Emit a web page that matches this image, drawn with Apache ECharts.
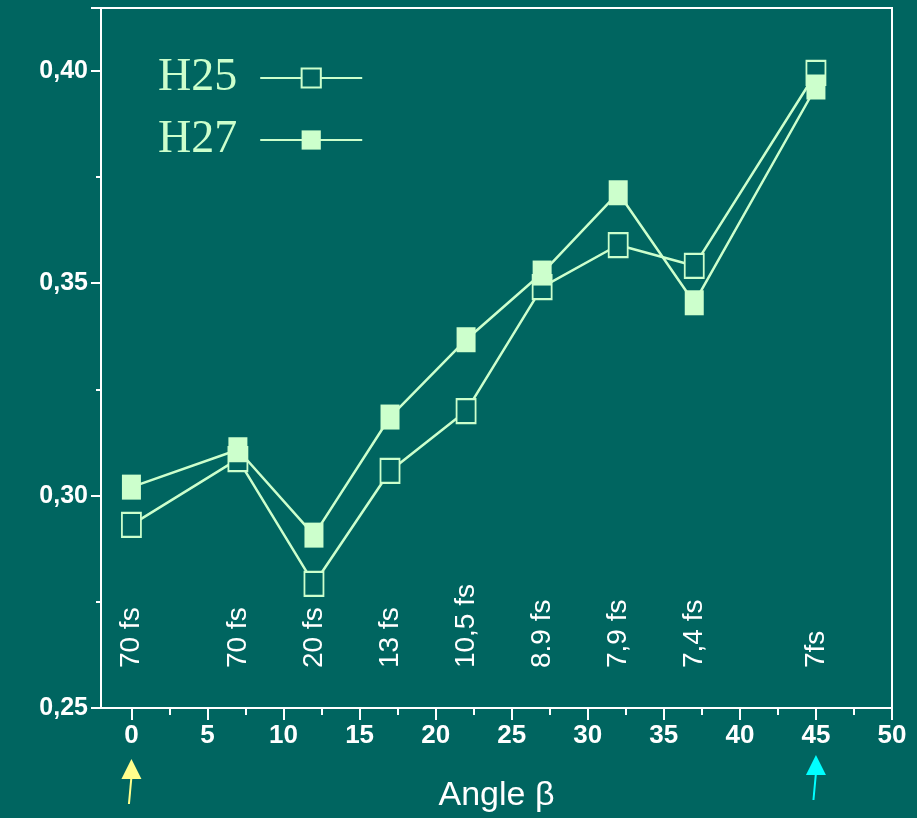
<!DOCTYPE html>
<html>
<head>
<meta charset="utf-8">
<script src="https://cdn.jsdelivr.net/npm/echarts@6/dist/echarts.min.js"></script>
<style>
  html, body { margin: 0; padding: 0; background: #006560; }
  #chart { width: 917px; height: 818px; }
</style>
</head>
<body>
<div id="chart"></div>
<script>
// angle beta (x) for each sample
const angles = [0, 7, 12, 17, 22, 27, 32, 37, 45];
const h25 = [0.2931, 0.3086, 0.2792, 0.3058, 0.3199, 0.3491, 0.3590, 0.3541, 0.3995];
const h27 = [0.3020, 0.3108, 0.2907, 0.3185, 0.3367, 0.3524, 0.3713, 0.3454, 0.3962];
// pulse durations written vertically above each angle
const pulseLabels = ['70 fs', '70 fs', '20 fs', '13 fs', '10,5 fs', '8.9 fs', '7,9 fs', '7,4 fs', '7fs'];
const pulseLabelY = 0.2594;
const xTicks = [0, 5, 10, 15, 20, 25, 30, 35, 40, 45, 50];
const xMinorTicks = [2.5, 7.5, 12.5, 17.5, 22.5, 27.5, 32.5, 37.5, 42.5, 47.5];
const arrowMarks = [{ x: 0, color: '#ffff8c' }, { x: 45, color: '#00ffff' }];

const bg = '#006560';
const green = '#ccffcc';
const sans = "'Liberation Sans', Arial, sans-serif";

const chart = echarts.init(document.getElementById('chart'), null, { renderer: 'canvas' });

const pair = (ys) => angles.map((a, i) => [a, ys[i]]);

const option = {
    backgroundColor: bg,
    animation: false,
    grid: {
        left: 101, right: 25, top: 8, bottom: 110,
        outerBoundsMode: 'none',
        containLabel: false,
        show: true, borderColor: '#ffffff', borderWidth: 2
    },
    legend: {
        orient: 'vertical',
        left: 153, top: 50,
        align: 'right',
        itemWidth: 102, itemHeight: 24,
        itemGap: 16,
        data: ['H25', 'H27'],
        textStyle: {
            color: green,
            fontFamily: "'Liberation Serif', 'Times New Roman', serif",
            fontSize: 46,
            padding: [0, 18, 0, 0]
        }
    },
    xAxis: [{
        type: 'value', min: -2, max: 50,
        name: 'Angle β', nameLocation: 'middle', nameGap: 71,
        nameTextStyle: { color: '#ffffff', fontSize: 34, fontFamily: sans },
        axisLine: { onZero: false, lineStyle: { color: '#ffffff', width: 2 } },
        axisTick: { customValues: xTicks, length: 12, lineStyle: { color: '#ffffff', width: 2 } },
        axisLabel: {
            customValues: xTicks, margin: 15,
            color: '#ffffff', fontWeight: 'bold', fontSize: 26, fontFamily: sans
        },
        splitLine: { show: false }
    }, {
        type: 'value', min: -2, max: 50, position: 'bottom',
        axisLine: { show: false, onZero: false },
        axisTick: { customValues: xMinorTicks, length: 7, lineStyle: { color: '#ffffff', width: 2 } },
        axisLabel: { show: false },
        splitLine: { show: false }
    }],
    yAxis: {
        type: 'value', min: 0.25, max: 0.4148, interval: 0.05,
        axisLine: { show: true, onZero: false, lineStyle: { color: '#ffffff', width: 2 } },
        axisTick: { length: 10, lineStyle: { color: '#ffffff', width: 2 } },
        minorTick: { show: true, splitNumber: 2, length: 5, lineStyle: { color: '#ffffff', width: 2 } },
        axisLabel: {
            color: '#ffffff', fontWeight: 'bold', fontSize: 25, fontFamily: sans, margin: 13,
            formatter: (v) => {
                const r = Math.round(v * 100);
                return Math.abs(v * 100 - r) < 1e-6 && r % 5 === 0 ? (r / 100).toFixed(2).replace('.', ',') : '';
            }
        },
        splitLine: { show: false }
    },
    series: [{
        name: 'H25',
        type: 'line',
        data: pair(h25),
        symbol: 'rect',
        symbolSize: [19, 24],
        lineStyle: { color: green, width: 2.5 },
        itemStyle: { color: bg, borderColor: green, borderWidth: 2 },
        z: 3
    }, {
        name: 'H27',
        type: 'line',
        data: pair(h27),
        symbol: 'rect',
        symbolSize: [19, 25],
        lineStyle: { color: green, width: 2.5 },
        itemStyle: { color: green, borderColor: green, borderWidth: 0 },
        z: 4
    }, {
        name: 'pulses',
        type: 'scatter',
        symbolSize: 0,
        silent: true,
        itemStyle: { opacity: 1 },
        data: angles.map((a, i) => ({ value: [a, pulseLabelY], name: pulseLabels[i] })),
        label: {
            show: true,
            position: 'inside',
            rotate: 90,
            align: 'left',
            verticalAlign: 'middle',
            formatter: (p) => p.name,
            color: '#ffffff',
            opacity: 1,
            textBorderWidth: 0,
            fontSize: 28,
            fontFamily: sans
        }
    }]
};

chart.setOption(option);

// arrows pointing at the two marked angles, below the axis labels
const axisBottom = 708;
const arrows = [];
arrowMarks.forEach((m) => {
    const px = chart.convertToPixel({ xAxisIndex: 0 }, m.x);
    const tipY = m.x === 0 ? axisBottom + 51 : axisBottom + 47;
    arrows.push({
        type: 'polygon',
        shape: { points: [[px, tipY], [px - 10, tipY + 20], [px + 10, tipY + 20]] },
        style: { fill: m.color }
    });
    arrows.push({
        type: 'line',
        shape: { x1: px, y1: tipY + 18, x2: px - 2.5, y2: tipY + 45 },
        style: { stroke: m.color, lineWidth: 2 }
    });
});
chart.setOption({ graphic: arrows });
</script>
</body>
</html>
